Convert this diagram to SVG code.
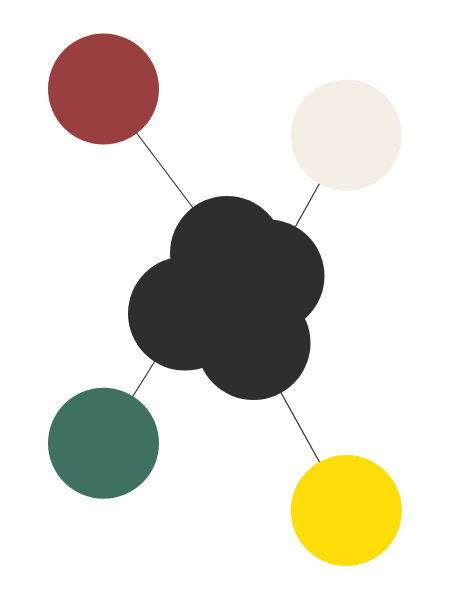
<svg xmlns="http://www.w3.org/2000/svg" width="450" height="600" viewBox="0 0 450 600">
<style>
.edge{stroke:#333333;stroke-width:1.2;fill:none}
.core{fill:#2e2e2e}
</style>
<rect width="450" height="600" fill="#ffffff"/>
<g id="connectors">
<line class="edge" x1="103.5" y1="89" x2="227" y2="253"/>
<line class="edge" x1="346.3" y1="135.3" x2="268" y2="276"/>
<line class="edge" x1="103.5" y1="443.3" x2="185" y2="313"/>
<line class="edge" x1="346.3" y1="510.5" x2="253.5" y2="343"/>
</g>
<g id="center">
<circle class="core" cx="227" cy="253" r="57"/>
<circle class="core" cx="268" cy="276" r="56.5"/>
<circle class="core" cx="185" cy="313.5" r="57"/>
<circle class="core" cx="253.5" cy="343" r="57"/>
</g>
<g id="node-red"><circle cx="103.5" cy="89" r="55.5" fill="#993f3f"/></g>
<g id="node-cream"><circle cx="346.3" cy="135.3" r="55.5" fill="#f5eee4"/></g>
<g id="node-green"><circle cx="103.5" cy="443.3" r="55.5" fill="#3e7063"/></g>
<g id="node-yellow"><circle cx="346.3" cy="510.5" r="55.5" fill="#ffdd09"/></g>
</svg>
